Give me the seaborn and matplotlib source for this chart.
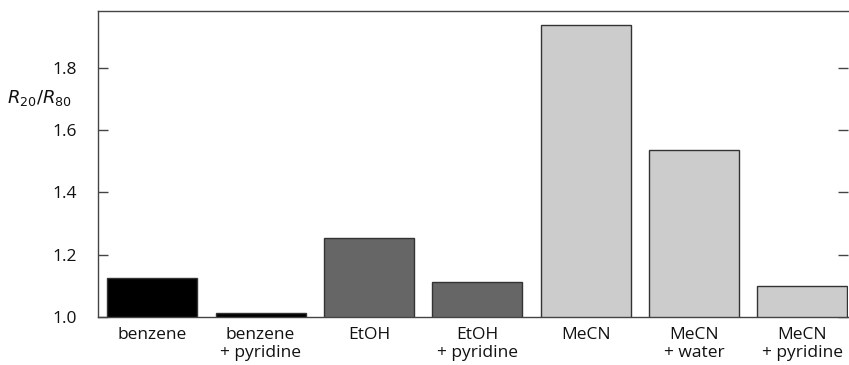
import seaborn as sns
import matplotlib.pyplot as plt

# data
solvents = ["benzene", "benzene\n+ pyridine", "EtOH", "EtOH\n+ pyridine",
            "MeCN", "MeCN\n+ water", "MeCN\n+ pyridine"]
ratio = [1.125, 1.012, 1.255, 1.112, 1.937, 1.535, 1.100]
bar_colors = ["#000000", "#000000", "#666666", "#666666",
              "#cccccc", "#cccccc", "#cccccc"]

sns.set_style("white")
plt.rcParams['font.family'] = ['Open Sans', 'DejaVu Sans']

fig = plt.figure(figsize=(8.49, 3.65), dpi=100)
ax = fig.add_axes([0.1154, 0.1315, 0.8834, 0.8384])

sns.barplot(x=solvents, y=ratio, hue=solvents, palette=bar_colors,
            legend=False, width=0.83, edgecolor="#333333", linewidth=1.0, ax=ax)

ax.set_ylim(1.0, 1.983)
ax.set_xlim(-0.5, 6.42)
ax.set_yticks([1.0, 1.2, 1.4, 1.6, 1.8])
ax.set_yticklabels(["1.0", "1.2", "1.4", "1.6", "1.8"])

for side in ["left", "top", "bottom"]:
    ax.spines[side].set_visible(True)
    ax.spines[side].set_color("#444444")
    ax.spines[side].set_linewidth(1.0)
ax.spines["right"].set_visible(False)

ax.tick_params(axis="y", direction="in", length=7, width=1, color="#444444",
               labelsize=12.5, pad=15, left=True, right=True, labelcolor="#111111")
ax.tick_params(axis="x", length=0, labelsize=12.5, pad=7, labelcolor="#111111")
for lbl in ax.get_xticklabels():
    lbl.set_linespacing(1.15)
ax.set_xlabel("")
ax.set_ylabel("")

ax.text(-0.121, 0.715, r"$R_{20}/R_{80}$", transform=ax.transAxes,
        fontsize=13, ha="left", va="center", color="#111111")

fig.savefig("out.png", dpi=100)
